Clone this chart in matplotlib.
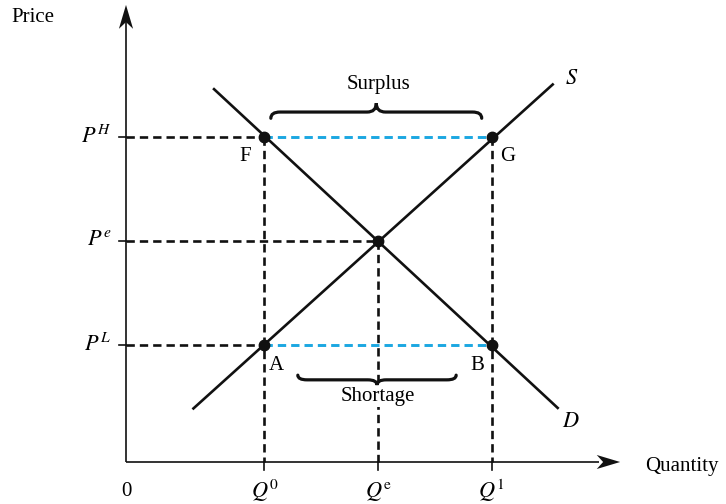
from matplotlib import pyplot as plt
from matplotlib.path import Path
from matplotlib.patches import PathPatch, Polygon

plt.rcParams['font.family']=['Liberation Serif','DejaVu Serif']
plt.rcParams['mathtext.fontset']='stix'
plt.rcParams['lines.scale_dashes']=False

# Quantity and price levels (arbitrary units)
q_levels=[19.5,35.5,51.5]
q_labels=['$Q^0$','$Q^{\\mathrm{e}}$','$Q^1$']
p_levels=[22.5,42.5,62.5]
p_labels=['$P^L$','$P^e$','$P^H$']

# Straight supply and demand curves given by their end points
supply_q=[9.5,60.1]
supply_p=[10.3,72.6]
demand_q=[12.4,60.8]
demand_p=[71.7,10.4]

# Lengths of the two axes
q_max=69.6
p_max=87.9

# Brace extents: (left, right, body level, end level, tip level)
surplus_brace=(20.4,50.1,67.3,66.1,69.0)
shortage_brace=(24.2,46.5,15.8,16.7,14.8)

fs=15
blue='#1ba7e1'
ink='#111111'
dash=(0,(6.0,3.6))

fig=plt.figure(figsize=(7.26,5.04),dpi=100)
ax=fig.add_axes([0,0,1,1])
ax.set_xlim(-17.746,84.507)
ax.set_ylim(-8.077,88.846)
ax.axis('off')

q0,qe,q1=q_levels
pl,pe,ph=p_levels

# Axes with stealth style arrow heads
ax.plot([0,0],[0,p_max-3],color=ink,lw=1.2,solid_capstyle='butt')
ax.plot([0,q_max-3],[0,0],color=ink,lw=1.2,solid_capstyle='butt')
ax.add_patch(Polygon([[0,p_max],[-1.0,p_max-4.6],[0,p_max-3.3],[1.0,p_max-4.6]],
                     closed=True,color=ink,lw=0))
ax.add_patch(Polygon([[q_max,0],[q_max-3.3,1.35],[q_max-2.4,0],[q_max-3.3,-1.35]],
                     closed=True,color=ink,lw=0))

# Ticks
for p in p_levels:
    ax.plot([-1.0,0],[p,p],color=ink,lw=1.2)
for q in q_levels:
    ax.plot([q,q],[0,-1.6],color=ink,lw=1.2)

# Black dashed guides
ax.plot([0,q0],[ph,ph],color=ink,lw=1.9,ls=dash)
ax.plot([0,qe],[pe,pe],color=ink,lw=1.9,ls=dash)
ax.plot([0,q0],[pl,pl],color=ink,lw=1.9,ls=dash)
ax.plot([q0,q0],[ph,0],color=ink,lw=1.9,ls=dash)
ax.plot([qe,qe],[pe,0],color=ink,lw=1.9,ls=dash)
ax.plot([q1,q1],[ph,0],color=ink,lw=1.9,ls=dash)

# Blue dashed surplus and shortage gaps
ax.plot([q0,q1],[ph,ph],color=blue,lw=2.1,ls=dash,zorder=3)
ax.plot([q0,q1],[pl,pl],color=blue,lw=2.1,ls=dash,zorder=3)

# Supply and demand
ax.plot(supply_q,supply_p,color=ink,lw=1.9,zorder=4)
ax.plot(demand_q,demand_p,color=ink,lw=1.9,zorder=4)

# Points
ax.plot([q0,q1,qe,q0,q1],[ph,ph,pe,pl,pl],'o',color=ink,ms=7.5,zorder=5)

def brace(x0,x1,yb,ye,yt,r=1.3):
    xm=(x0+x1)/2
    verts=[(x0,ye),(x0,yb),(x0+r,yb),(xm-r,yb),(xm,yb),(xm,yt),
           (xm,yb),(xm+r,yb),(x1-r,yb),(x1,yb),(x1,ye)]
    codes=[Path.MOVETO,Path.CURVE3,Path.CURVE3,Path.LINETO,Path.CURVE3,Path.CURVE3,
           Path.CURVE3,Path.CURVE3,Path.LINETO,Path.CURVE3,Path.CURVE3]
    ax.add_patch(PathPatch(Path(verts,codes),fill=False,color=ink,lw=2.3,
                           capstyle='round',zorder=4))

brace(*surplus_brace)
brace(*shortage_brace)

ax.text((q0+q1)/2,72.5,'Surplus',fontsize=fs,ha='center',va='center')
ax.text((q0+q1)/2,12.6,'Shortage',fontsize=fs,ha='center',va='center',zorder=4,
        bbox=dict(facecolor='white',edgecolor='none',pad=1))

# Axis labels
ax.text(-13.1,85.4,'Price',fontsize=fs,ha='center',va='center')
ax.text(73.1,-0.8,'Quantity',fontsize=fs,ha='left',va='center')
ax.text(0,-5.6,'0',fontsize=fs,ha='center',va='center')
for q,lab in zip(q_levels,q_labels):
    ax.text(q,-5.6,lab,fontsize=fs+1,ha='center',va='center')
for p,lab in zip(p_levels,p_labels):
    ax.text(-2.1,p,lab,fontsize=fs+1,ha='right',va='center')

# Point letters
ax.annotate('F',(q0,ph),xytext=(-13.7,-14.4),textcoords='offset points',
            fontsize=fs,ha='center',va='center')
ax.annotate('G',(q1,ph),xytext=(11.5,-14.4),textcoords='offset points',
            fontsize=fs,ha='center',va='center')
ax.annotate('A',(q0,pl),xytext=(8.6,-15.1),textcoords='offset points',
            fontsize=fs,ha='center',va='center')
ax.annotate('B',(q1,pl),xytext=(-10.6,-15.1),textcoords='offset points',
            fontsize=fs,ha='center',va='center')
ax.annotate('$S$',(supply_q[1],supply_p[1]),xytext=(13.5,3.5),textcoords='offset points',
            fontsize=fs+1,ha='center',va='center')
ax.annotate('$D$',(demand_q[1],demand_p[1]),xytext=(9.5,-10.5),textcoords='offset points',
            fontsize=fs+1,ha='center',va='center')

fig.savefig('out.png',dpi=100)
